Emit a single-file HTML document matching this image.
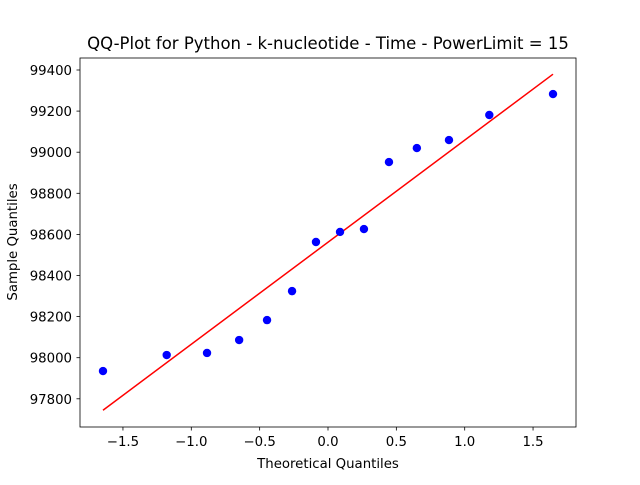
<!DOCTYPE html>
<html><head><meta charset="utf-8"><style>
body{margin:0;background:#fff;}
svg text{font-family:"DejaVu Sans","Liberation Sans",sans-serif;fill:#000;}
</style></head><body>
<svg id="chart" width="640" height="480" xmlns="http://www.w3.org/2000/svg">
<rect width="640" height="480" fill="#fff"/>
<text x="328" y="49" font-size="16.5" text-anchor="middle">QQ-Plot for Python - k-nucleotide - Time - PowerLimit = 15</text>
<g id="ticks"></g>
<g id="marks"></g>
<rect x="80" y="58" width="496" height="369" fill="none" stroke="#000" stroke-width="0.8"/>
<text x="328" y="468" font-size="13.3" text-anchor="middle">Theoretical Quantiles</text>
<text transform="translate(17,242) rotate(-90)" font-size="13.3" text-anchor="middle">Sample Quantiles</text>
</svg>
<script>
const theoretical=[-1.646,-1.18,-0.885,-0.65,-0.446,-0.263,-0.088,0.088,0.263,0.446,0.65,0.885,1.18,1.646];
const sample=[97935,98013,98023,98086,98183,98324,98563,98612,98626,98952,99020,99059,99181,99283];
const xTicks=[-1.5,-1.0,-0.5,0.0,0.5,1.0,1.5];
const yTicks=[97800,98000,98200,98400,98600,98800,99000,99200,99400];
const lineSlope=496.7, lineIntercept=98562;
const NS="http://www.w3.org/2000/svg";
function sx(v){return 328+v*136.7;}
function sy(v){return 70+(99400-v)*0.2055;}
function mk(tag,attrs,parent){const e=document.createElementNS(NS,tag);for(const k in attrs)e.setAttribute(k,attrs[k]);parent.appendChild(e);return e;}
const tg=document.getElementById('ticks'), mg=document.getElementById('marks');
xTicks.forEach(t=>{
  const l=mk('line',{x1:sx(t),x2:sx(t),y1:427,y2:430.5,stroke:'#000','stroke-width':0.8},tg);
  
  
  const tx=mk('text',{x:sx(t),y:446,'font-size':13.3,'text-anchor':'middle'},tg);
  tx.textContent=(t<0?'\u2212':'')+Math.abs(t).toFixed(1);
  
  
});
yTicks.forEach(t=>{
  const l=mk('line',{x1:76.5,x2:80,y1:sy(t),y2:sy(t),stroke:'#000','stroke-width':0.8},tg);
  
  
  const tx=mk('text',{x:72,y:sy(t)+5,'font-size':13.3,'text-anchor':'end'},tg);
  tx.textContent=t;
  
  
});
const x0=theoretical[0], x1=theoretical[theoretical.length-1];
const fl=mk('line',{x1:sx(x0),y1:sy(lineIntercept+lineSlope*x0),x2:sx(x1),y2:sy(lineIntercept+lineSlope*x1),stroke:'#ff0000','stroke-width':1.5},mg);


theoretical.forEach((t,i)=>{
  const c=mk('circle',{cx:sx(t),cy:sy(sample[i]),r:4.2,fill:'#0000ff'},mg);
  
  
});
</script>
</body></html>
